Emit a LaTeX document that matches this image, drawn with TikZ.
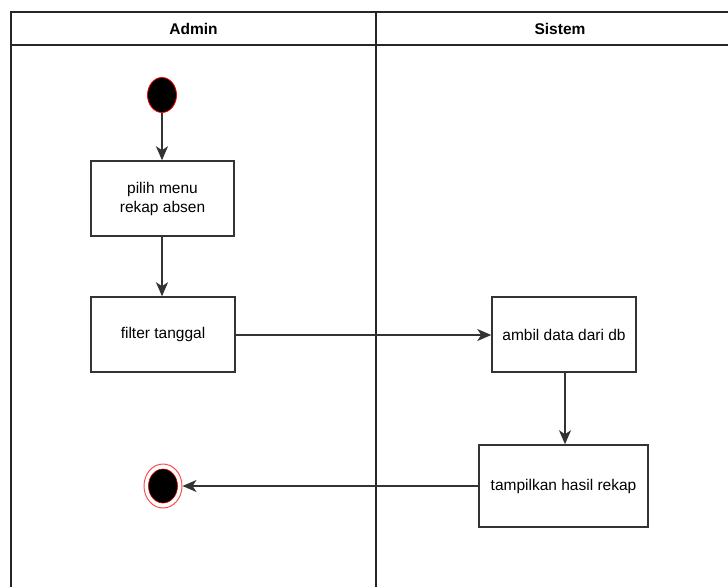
\documentclass[tikz,border=0pt]{standalone}
\usepackage{fontspec}
\setmainfont{Liberation Sans}
\usetikzlibrary{arrows.meta,shapes.geometric}
\begin{document}
\begin{tikzpicture}[x=1pt,y=-1pt,
  act/.style={draw=black!80,line width=1.5pt,fill=white,inner sep=0pt,font=\fontsize{15.5}{19}\selectfont,align=center},
  flow/.style={draw=black!80,line width=1.5pt,-{Stealth[length=14pt,width=12pt,inset=4pt]}},
  lane/.style={draw=black!85,line width=1.6pt},
  hdr/.style={font=\bfseries\fontsize{15.5}{18}\selectfont}]
\useasboundingbox (0,0) rectangle (728,587);
% swimlanes
\draw[lane] (11,587) -- (11,12) -- (728,12);
\draw[lane] (11,45) -- (728,45);
\draw[lane] (376,12) -- (376,587);
\node[hdr] (hadmin) at (193.5,29) {Admin};
\node[hdr] (hsis) at (560,29) {Sistem};
% nodes
\node[ellipse,draw=red,fill=black,minimum width=29pt,minimum height=35pt,inner sep=0pt,line width=0.8pt] (start) at (162,95) {};
\node[act,minimum width=143pt,minimum height=75pt] (b1) at (162.5,198.5) {pilih menu\\rekap absen};
\node[act,minimum width=144pt,minimum height=75pt] (b2) at (163,334.5) {filter tanggal};
\node[act,minimum width=144pt,minimum height=75pt] (b3) at (564,334.5) {ambil data dari db};
\node[act,minimum width=169pt,minimum height=82pt] (b4) at (563.5,486) {tampilkan hasil rekap};
\node[ellipse,draw=red!70,line width=1pt,minimum width=38pt,minimum height=44pt,inner sep=0pt] (end) at (163,486) {};
\node[ellipse,draw=red!80!black,fill=black,minimum width=29pt,minimum height=34pt,inner sep=0pt,line width=0.6pt] (endin) at (163,486) {};
% flows
\draw[flow] (start.south -| 162,0) -- (b1.north -| 162,0);
\draw[flow] (b1.south -| 162,0) -- (b2.north -| 162,0);
\draw[flow] (b2.east |- 0,335) -- (b3.west |- 0,335);
\draw[flow] (b3.south -| 565,0) -- (b4.north -| 565,0);
\draw[flow] (b4.west) -- (end.east);
\end{tikzpicture}
\end{document}
